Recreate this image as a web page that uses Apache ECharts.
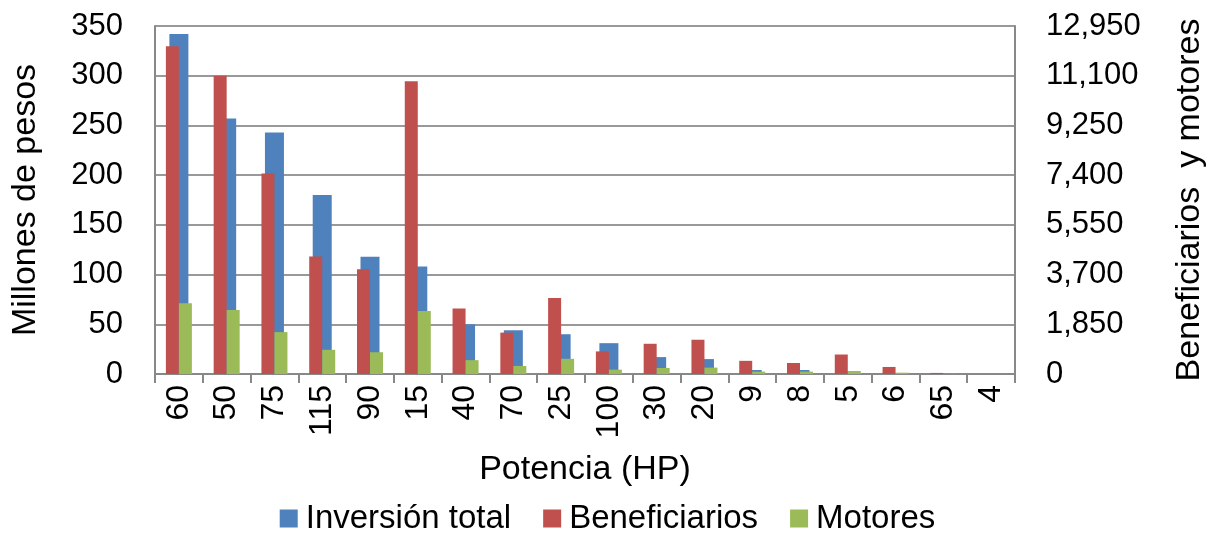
<!DOCTYPE html>
<html>
<head>
<meta charset="utf-8">
<script src="https://cdn.jsdelivr.net/npm/echarts@6/dist/echarts.min.js"></script>
<style>html,body{margin:0;padding:0;background:#fff;}#c{width:1215px;height:534px;}</style>
</head>
<body>
<div id="c"></div>
<script>
const categories = ['60','50','75','115','90','15','40','70','25','100','30','20','9','8','5','6','65','4'];
const inversionTotal = [342, 257, 243, 180, 118, 108, 50, 44, 40, 31, 17, 15, 4, 4, 3, 1, 0.3, 0];
const beneficiarios = [12200, 11100, 7460, 4370, 3900, 10890, 2440, 1540, 2830, 840, 1125, 1275, 490, 410, 725, 262, 40, 0];
const motores = [2630, 2385, 1560, 900, 810, 2345, 515, 300, 565, 162, 225, 238, 88, 88, 112, 50, 10, 0];
const seriesNames = ['Inversión total', 'Beneficiarios', 'Motores'];
const leftTicks = {min: 0, max: 350, interval: 50};
const rightTicks = {min: 0, max: 12950, interval: 1850};

const FONT = "'Liberation Sans', Arial, sans-serif";
const chart = echarts.init(document.getElementById('c'), null, {renderer: 'canvas'});
const option = {
  animation: false,
  backgroundColor: '#ffffff',
  textStyle: {fontFamily: FONT, color: '#000'},
  legend: {
    data: seriesNames,
    left: 'center',
    top: 497,
    itemWidth: 18,
    itemHeight: 18,
    itemGap: 32,
    icon: 'rect',
    textStyle: {fontFamily: FONT, fontSize: 33, color: '#000', padding: [0, 0, 0, 3]}
  },
  grid: {left: 155, right: 200, top: 26, bottom: 160, containLabel: false},
  xAxis: [
    {
      type: 'category',
      data: categories,
      name: 'Potencia (HP)',
      nameLocation: 'middle',
      nameGap: 79,
      nameTextStyle: {fontFamily: FONT, fontSize: 34, color: '#000'},
      axisLine: {show: true, lineStyle: {color: '#888', width: 2}},
      axisTick: {show: true, length: 9, lineStyle: {color: '#888', width: 2}},
      axisLabel: {rotate: 90, margin: 11, fontFamily: FONT, fontSize: 32, color: '#000'}
    },
    {
      type: 'category',
      data: categories,
      show: false
    }
  ],
  yAxis: [
    {
      type: 'value',
      min: leftTicks.min, max: leftTicks.max, interval: leftTicks.interval,
      name: 'Millones de pesos',
      nameLocation: 'middle',
      nameGap: 112,
      nameTextStyle: {fontFamily: FONT, fontSize: 34, color: '#000'},
      axisLine: {show: true, lineStyle: {color: '#888', width: 2}},
      axisTick: {show: false},
      axisLabel: {margin: 32, fontFamily: FONT, fontSize: 31, color: '#000'},
      splitLine: {show: true, lineStyle: {color: '#999', width: 2}}
    },
    {
      type: 'value',
      position: 'right',
      min: rightTicks.min, max: rightTicks.max, interval: rightTicks.interval,
      name: 'Beneficiarios  y motores',
      nameLocation: 'middle',
      nameGap: 158,
      nameRotate: 90,
      nameTextStyle: {fontFamily: FONT, fontSize: 34, color: '#000'},
      axisLine: {show: true, lineStyle: {color: '#888', width: 2}},
      axisTick: {show: false},
      axisLabel: {margin: 31, fontFamily: FONT, fontSize: 31, color: '#000',
        formatter: v => Number(v).toLocaleString('en-US')},
      splitLine: {show: false}
    }
  ],
  series: [
    {
      name: seriesNames[0], type: 'bar', xAxisIndex: 0, yAxisIndex: 0,
      data: inversionTotal, barWidth: 19, z: 1,
      itemStyle: {color: '#4F81BD'}
    },
    {
      name: seriesNames[1], type: 'bar', xAxisIndex: 1, yAxisIndex: 1,
      data: beneficiarios, barWidth: 13, barGap: 0, z: 3,
      itemStyle: {color: '#C0504D'}
    },
    {
      name: seriesNames[2], type: 'bar', xAxisIndex: 1, yAxisIndex: 1,
      data: motores, barWidth: 13, barGap: 0, z: 3,
      itemStyle: {color: '#9BBB59'}
    }
  ]
};
chart.setOption(option);
</script>
</body>
</html>
